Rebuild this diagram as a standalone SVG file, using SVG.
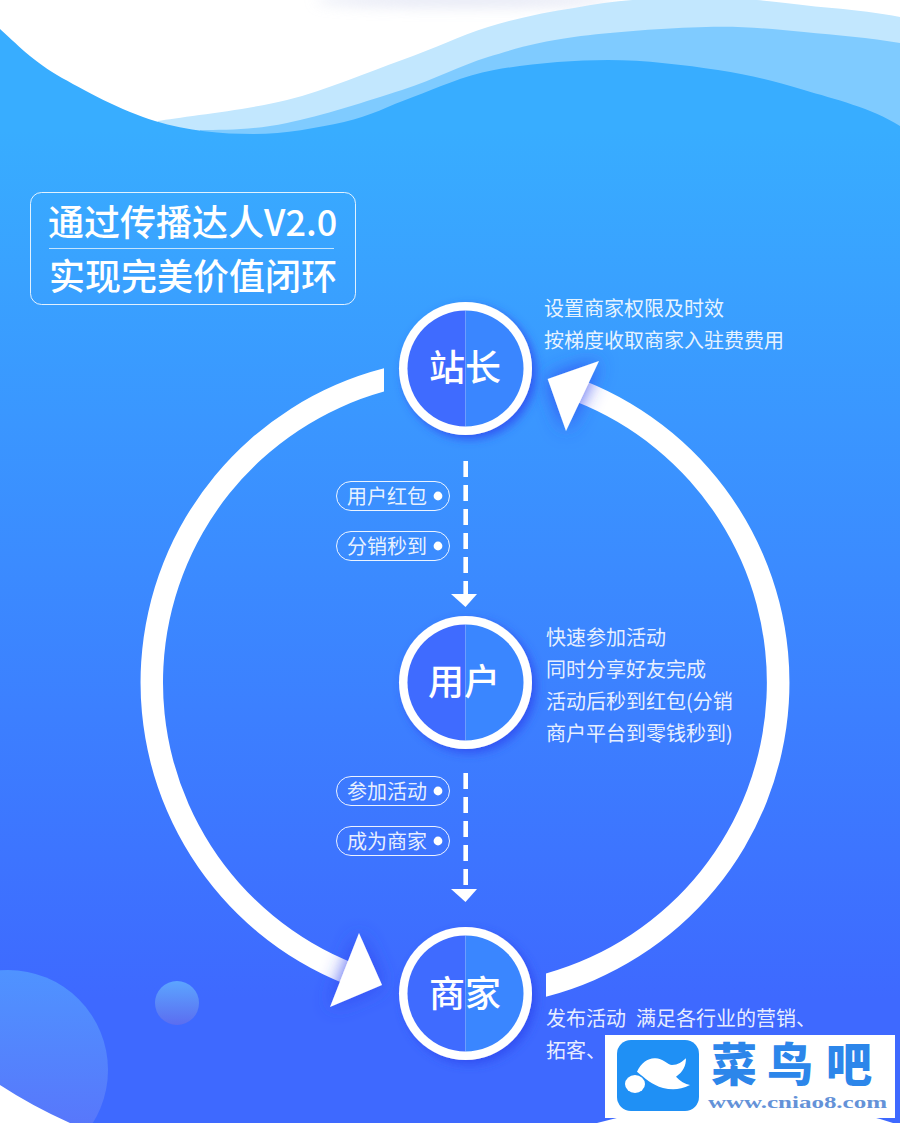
<svg xmlns="http://www.w3.org/2000/svg" width="900" height="1123" viewBox="0 0 900 1123">
<defs>
<linearGradient id="bg" gradientUnits="userSpaceOnUse" x1="0" y1="130" x2="0" y2="1000"><stop offset="0" stop-color="#38adff"/><stop offset="1" stop-color="#3e69ff"/></linearGradient>
<linearGradient id="big" x1="0" y1="0" x2="0" y2="1"><stop offset="0" stop-color="#4f93ff"/><stop offset="1" stop-color="#5a6ffa"/></linearGradient>
<linearGradient id="small" x1="0" y1="0" x2="0" y2="1"><stop offset="0" stop-color="#5ca5ff"/><stop offset="1" stop-color="#5b6df0"/></linearGradient>
<filter id="nodeShadow" x="-30%" y="-30%" width="160%" height="160%"><feDropShadow dx="4" dy="4" stdDeviation="5" flood-color="#2f4cf0" flood-opacity="0.85"/></filter>
<filter id="headShadow" x="-60%" y="-60%" width="220%" height="220%"><feDropShadow dx="0" dy="0" stdDeviation="10" flood-color="#3147f0" flood-opacity="0.9"/></filter>
<filter id="soft" x="-30%" y="-200%" width="160%" height="500%"><feGaussianBlur stdDeviation="7"/></filter>
<g id="disc">
<circle r="66.5" fill="#fff" filter="url(#nodeShadow)"/>
<path d="M0 -58A58 58 0 0 0 0 58Z" fill="#3f6bff"/>
<path d="M0 -58A58 58 0 0 1 0 58Z" fill="#3a86ff"/>
</g>
<g id="pill">
<rect x="0.5" y="0.5" width="113" height="29" rx="14.5" fill="none" stroke="#fff" stroke-opacity="0.9" stroke-width="1"/>
<circle cx="102" cy="15" r="4.4" fill="#fff"/>
</g>
</defs>
<style>
text{font-family:"Noto Sans CJK SC","Noto Sans",sans-serif;fill:#fff}
.title{font-size:36px;font-weight:500}
.node{font-size:36px;font-weight:500;text-anchor:middle}
.desc{font-size:20px;fill-opacity:.9}
.tag{font-size:20px;fill-opacity:.9}
.shaft{fill:#fff}
.head{fill:#fff;filter:url(#headShadow)}
.dash{stroke:#fff;stroke-width:4.6;stroke-dasharray:16 8;fill:none}
</style>

<rect width="900" height="1123" fill="#fff"/>
<ellipse cx="465" cy="0" rx="150" ry="7" fill="#cfd4ec" opacity=".55" filter="url(#soft)"/>
<path d="M158 121C180 117 247 110 287 100C327 90 368 72 402 60C436 48 459 36 488 27C517 18 547 12 574 8C601 3 625 0 649 -1C680 -3 715 -3 746 -1C780 2 805 6 832 8C855 10 880 13 900 17V220H158Z" fill="#c2e7fe"/>
<path d="M200 130C225 130 253 130 287 123C321 116 368 101 402 90C436 79 459 66 488 57C517 48 538 42 574 37C610 32 668 28 706 27C744 26 772 29 804 32C836 35 870 38 900 43V220H200Z" fill="#7fcbff"/>
<path d="M0 29C9.500 37 31 60 57 75C83 90 122 111 155 121C188 131 221.500 134 253 134C284.500 134 317 128 344 122C371 116 388 106 413 97C438 88 461.500 76 494 70C526.500 64 571 60 608 60C645 60 685 65 718 70C751 75 774 81 804 90C834 99 872 108 900 126V1123H0Z" fill="url(#bg)"/>

<circle cx="8" cy="1070" r="100" fill="url(#big)"/>
<circle cx="177" cy="1003" r="22" fill="url(#small)"/>
<path d="M0 1085Q32 1106 70 1123H0Z" fill="#fff"/>
<path d="M597 1123Q670 1103 750 1103Q830 1103 893 1123Z" fill="#fff"/>

<g id="title-box">
<rect x="30.500" y="192.500" width="325" height="112" rx="11" fill="none" stroke="#fff" stroke-opacity=".85"/>
<line x1="49" y1="248.500" x2="334" y2="248.500" stroke="#fff" stroke-opacity=".7"/>
<text class="title" x="48" y="236">通过传播达人V2.0</text>
<text class="title" x="49" y="290">实现完美价值闭环</text>
</g>

<g id="connectors">
<path class="shaft" d="M384 368.300A324.500 324.500 0 0 0 345 984L354 963.400A302 302 0 0 1 384 391.600Z"/>
<path class="shaft" d="M546 996.700A324.500 324.500 0 0 0 585 381L575 401.300A302 302 0 0 1 546 973.400Z"/>
<polygon class="head" points="382,985 359,933 330,1007"/>
<polygon class="head" points="547.700,379 599,361 566,431"/>
<line class="dash" x1="465.700" y1="461" x2="465.700" y2="595"/>
<polygon points="451,594 477,594 465.500,607" fill="#fff"/>
<line class="dash" x1="465.700" y1="773" x2="465.700" y2="887"/>
<polygon points="451,889 477,889 465.500,902" fill="#fff"/>
</g>

<g id="node-zhanzhang"><use href="#disc" x="465.500" y="368.500"/><text class="node" x="465" y="381">站长</text></g>
<g id="node-yonghu"><use href="#disc" x="465.500" y="682.500"/><text class="node" x="464" y="695">用户</text></g>
<g id="node-shangjia"><use href="#disc" x="465.500" y="993.500"/><text class="node" x="465" y="1007">商家</text></g>

<g id="tag-hongbao"><use href="#pill" x="336" y="481"/><text class="tag" x="347" y="504">用户红包</text></g>
<g id="tag-miaodao"><use href="#pill" x="336" y="531"/><text class="tag" x="347" y="554">分销秒到</text></g>
<g id="tag-canjia"><use href="#pill" x="336" y="776"/><text class="tag" x="347" y="799">参加活动</text></g>
<g id="tag-chengwei"><use href="#pill" x="336" y="826"/><text class="tag" x="347" y="849">成为商家</text></g>

<g id="desc-zhanzhang">
<text class="desc" x="544" y="316">设置商家权限及时效</text>
<text class="desc" x="544" y="348">按梯度收取商家入驻费费用</text>
</g>
<g id="desc-yonghu">
<text class="desc" x="546" y="645">快速参加活动</text>
<text class="desc" x="546" y="677">同时分享好友完成</text>
<text class="desc" x="546" y="709">活动后秒到红包(分销</text>
<text class="desc" x="546" y="741">商户平台到零钱秒到)</text>
</g>
<g id="desc-shangjia">
<text class="desc" x="546" y="1026">发布活动<tspan x="636">满足各行业的营销、</tspan></text>
<text class="desc" x="546" y="1058">拓客、</text>
</g>

<g id="watermark">
<rect x="605" y="1035" width="290" height="83" fill="#fff"/>
<rect x="617" y="1040" width="82" height="71" rx="14" fill="#1f90f5"/>
<path d="M637 1071.700C641 1063 648 1058 655 1058.300C662 1058 668 1065 672 1065C678 1065 682 1062 686 1058.300C686 1066 683 1072 676 1076.700C680 1081 685 1084 690 1085C680 1090 672 1090 663 1088C652 1085 645 1078 637 1071.700Z" fill="#fff"/>
<ellipse cx="635" cy="1084" rx="10" ry="9" fill="#fff"/>
<text x="711 767 826" y="1081" style="font-size:46px;font-weight:900;fill:#2c86ea">菜鸟吧</text>
<text x="708" y="1108" textLength="179" lengthAdjust="spacingAndGlyphs" style="font-family:'Liberation Serif',serif;font-size:16px;font-weight:700;fill:#6492d8">www.cniao8.com</text>
</g>
</svg>
